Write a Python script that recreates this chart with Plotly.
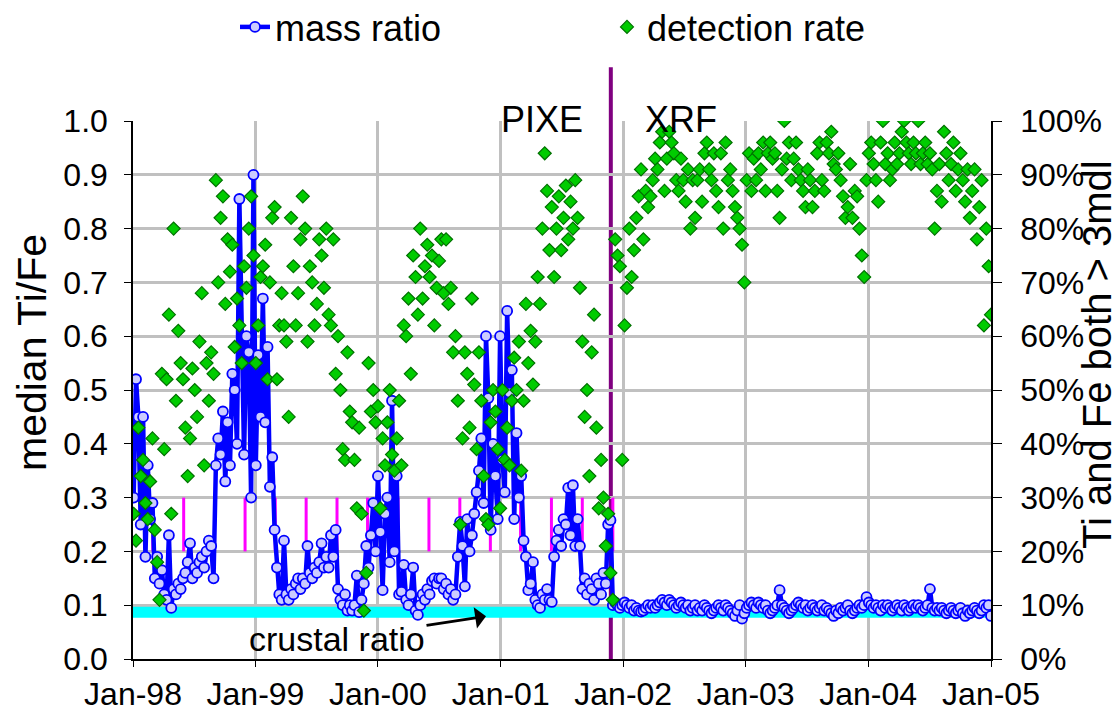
import pandas as pd
import plotly.graph_objects as go

# ---------------- data ----------------
sample_start = "1998-01-03"          # weekly samples
n_samples = 366

mass_1998 = [0.30, 0.52, 0.45, 0.25, 0.45, 0.19, 0.36, 0.26, 0.29, 0.15,
             0.19, 0.14, 0.165, 0.12, 0.11, 0.23, 0.095, 0.13, 0.12, 0.14,
             0.13, 0.15, 0.16, 0.18, 0.215, 0.15, 0.17, 0.16, 0.18, 0.19,
             0.17, 0.20, 0.22, 0.21, 0.15, 0.36, 0.41, 0.38, 0.46, 0.33,
             0.44, 0.36, 0.53, 0.50, 0.40, 0.855, 0.55, 0.38, 0.60, 0.57,
             0.30, 0.90]
mass_1999 = [0.36, 0.565, 0.45, 0.67, 0.44, 0.58, 0.32, 0.375, 0.24, 0.17,
             0.12, 0.11, 0.22, 0.12, 0.11, 0.13, 0.12, 0.14, 0.15, 0.13,
             0.15, 0.14, 0.21, 0.16, 0.15, 0.17, 0.16, 0.18, 0.215, 0.17,
             0.19, 0.17, 0.23, 0.19, 0.24, 0.13, 0.11, 0.10, 0.12, 0.09,
             0.10, 0.09, 0.10, 0.155, 0.087, 0.11, 0.14, 0.21, 0.17, 0.23,
             0.29, 0.20]
mass_2000 = [0.34, 0.236, 0.128, 0.27, 0.30, 0.18, 0.48, 0.20, 0.34, 0.12,
             0.125, 0.175, 0.11, 0.10, 0.12, 0.17, 0.09, 0.082, 0.10, 0.12,
             0.11, 0.13, 0.12, 0.145, 0.15, 0.14, 0.15, 0.15, 0.13, 0.14,
             0.12, 0.13, 0.11, 0.12, 0.19, 0.255, 0.21, 0.135, 0.26, 0.20,
             0.23, 0.27, 0.31, 0.35, 0.41, 0.29, 0.60, 0.485, 0.24, 0.40,
             0.34, 0.26]
mass_2001_pixe = [0.60, 0.37, 0.31, 0.647, 0.495, 0.537, 0.26, 0.42, 0.30, 0.34,
                  0.22, 0.19, 0.128, 0.14, 0.18, 0.11, 0.10, 0.095, 0.12, 0.11,
                  0.13, 0.11, 0.106, 0.19, 0.22, 0.24, 0.21, 0.26, 0.25, 0.318,
                  0.23, 0.323, 0.21, 0.26, 0.21, 0.13, 0.15, 0.12, 0.14, 0.13,
                  0.11, 0.15, 0.14, 0.12, 0.16, 0.14, 0.25, 0.258]
mass_xrf = [0.10, 0.105, 0.10, 0.095, 0.10, 0.105, 0.10, 0.095, 0.10, 0.09,
            0.095, 0.09, 0.088, 0.09, 0.095, 0.10, 0.095, 0.10, 0.095, 0.10,
            0.105, 0.11, 0.105, 0.10, 0.11, 0.105, 0.10, 0.095, 0.10, 0.105,
            0.10, 0.095, 0.10, 0.09, 0.095, 0.10, 0.09, 0.095, 0.09, 0.10,
            0.095, 0.09, 0.085, 0.09, 0.095, 0.10, 0.095, 0.09, 0.10, 0.095,
            0.09, 0.085, 0.08, 0.09, 0.10, 0.075, 0.085, 0.095, 0.10, 0.105,
            0.10, 0.095, 0.105, 0.10, 0.095, 0.10, 0.09, 0.085, 0.09, 0.095,
            0.10, 0.128, 0.10, 0.095, 0.09, 0.085, 0.09, 0.095, 0.10, 0.105,
            0.10, 0.095, 0.10, 0.09, 0.095, 0.10, 0.095, 0.09, 0.095, 0.10,
            0.09, 0.095, 0.09, 0.085, 0.08, 0.09, 0.085, 0.095, 0.09, 0.095,
            0.10, 0.09, 0.085, 0.09, 0.095, 0.10, 0.095, 0.10, 0.115, 0.105,
            0.10, 0.095, 0.10, 0.095, 0.09, 0.10, 0.095, 0.10, 0.095, 0.09,
            0.095, 0.10, 0.095, 0.09, 0.10, 0.095, 0.09, 0.095, 0.10, 0.095,
            0.10, 0.095, 0.09, 0.095, 0.10, 0.13, 0.095, 0.09, 0.095, 0.09,
            0.095, 0.09, 0.085, 0.09, 0.095, 0.09, 0.085, 0.09, 0.095, 0.085,
            0.08, 0.09, 0.085, 0.09, 0.095, 0.09, 0.085, 0.09, 0.10, 0.095,
            0.10, 0.08]

det_1998 = [27, 22, 43, 34, 37, 29, 26, 33, 41, 24,
            18, 11, 53, 39, 52, 64, 27, 80, 48, 61,
            55, 52, 43, 34, 41, 54, 50, 45, 59, 68,
            36, 55, 48, 57, 53, 89, 70, 82, 86, 66,
            78, 72, 77, 58, 67, 62, 55, 73, 69, 80,
            86, 75]
det_1999 = [55, 62, 71, 73, 77, 52, 70, 82, 84, 52,
            62, 68, 62, 59, 45, 82, 73, 62, 68, 78,
            86, 80, 59, 73, 70, 62, 66, 78, 75, 69,
            80, 64, 62, 78, 53, 60, 50, 39, 37, 57,
            46, 44, 37, 28, 43, 27, 9, 16, 55, 46,
            50, 44]
det_2000 = [47, 28, 41, 36, 44, 50, 38, 35, 41, 48,
            36, 62, 60, 67, 53, 75, 71, 64, 80, 67,
            73, 77, 71, 75, 62, 69, 74, 78, 68, 78,
            66, 69, 57, 60, 48, 25, 41, 57, 53, 43,
            67, 51, 39, 57, 48, 34, 26, 25, 44, 50,
            46, 39]
det_2001_pixe = [28, 50, 37, 43, 36, 48, 56, 50, 59, 35,
                 48, 66, 55, 61, 51, 59, 71, 66, 80, 94,
                 87, 76, 84, 71, 80, 86, 76, 82, 88, 78,
                 85, 80, 89, 82, 69, 59, 45, 50, 34, 57,
                 64, 43, 28, 37, 30, 21, 27, 16]
det_xrf = [11, 78, 75, 73, 37, 62, 69, 80, 71, 76,
           82, 86, 91, 78, 87, 84, 86, 89, 93, 91,
           96, 98, 87, 93, 98, 96, 94, 89, 87, 93,
           89, 85, 91, 80, 89, 82, 89, 91, 85, 94,
           96, 91, 89, 94, 87, 84, 94, 80, 96, 89,
           91, 87, 84, 82, 80, 77, 70, 89, 94, 87,
           93, 89, 94, 91, 96, 87, 94, 96, 93, 94,
           87, 82, 91, 100, 93, 96, 89, 93, 96, 91,
           89, 87, 84, 91, 89, 84, 87, 94, 96, 89,
           87, 96, 94, 98, 92, 91, 94, 89, 86, 82,
           84, 92, 82, 87, 86, 80, 75, 71, 89, 94,
           96, 92, 89, 85, 96, 100, 92, 94, 89, 91,
           96, 92, 94, 98, 100, 96, 94, 92, 96, 94,
           100, 92, 94, 96, 92, 94, 91, 80, 87, 92,
           85, 98, 94, 89, 92, 96, 87, 91, 94, 89,
           85, 91, 82, 87, 91, 78, 84, 89, 62, 80,
           73, 64]

crustal_ratio = 0.087
crustal_span = ["1998-01-01", "2005-01-01"]
season_dates = ["1998-03-01", "1998-06-01", "1998-09-01", "1998-12-01",
                "1999-03-01", "1999-06-01", "1999-09-01", "1999-12-01",
                "2000-03-01", "2000-06-01", "2000-09-01", "2000-12-01",
                "2001-03-01", "2001-06-01", "2001-09-01", "2001-12-01"]
season_low, season_high = 0.2, 0.3
method_change_date = "2001-11-25"

x_tick_dates = ["1998-01-01", "1999-01-01", "2000-01-01", "2001-01-01",
                "2002-01-01", "2003-01-01", "2004-01-01", "2005-01-01"]
x_tick_labels = ["Jan-98", "Jan-99", "Jan-00", "Jan-01",
                 "Jan-02", "Jan-03", "Jan-04", "Jan-05"]

# ---------------- build ----------------
dates = pd.date_range(sample_start, periods=n_samples, freq="7D")
mass = mass_1998 + mass_1999 + mass_2000 + mass_2001_pixe + mass_xrf
det = det_1998 + det_1999 + det_2000 + det_2001_pixe + det_xrf

FONT = "Liberation Sans, Arial, sans-serif"
GRID = "#c0c0c0"

fig = go.Figure()

fig.add_trace(go.Scatter(
    x=crustal_span, y=[crustal_ratio, crustal_ratio], mode="lines",
    line=dict(color="#00ffff", width=11), showlegend=False, hoverinfo="skip"))

sx, sy = [], []
for d in season_dates:
    sx += [d, d, None]
    sy += [season_low, season_high, None]
fig.add_trace(go.Scatter(
    x=sx, y=sy, mode="lines", line=dict(color="#ff00ff", width=3),
    showlegend=False, hoverinfo="skip"))

fig.add_trace(go.Scatter(
    x=dates, y=mass, mode="lines+markers", name="mass ratio",
    line=dict(color="#0000ff", width=4.5),
    marker=dict(symbol="circle", size=10, color="#ccccff",
                line=dict(color="#0000ff", width=1.8))))

fig.add_trace(go.Scatter(
    x=dates, y=det, mode="markers", name="detection rate", yaxis="y2",
    marker=dict(symbol="diamond", size=10, color="#00cc00",
                line=dict(color="#007000", width=1.2))))

fig.add_shape(type="line", xref="x", yref="paper",
              x0=method_change_date, x1=method_change_date, y0=0, y1=1.1,
              line=dict(color="#800080", width=4), layer="between")

W, H = 1118, 721
L, R, T, B = 133, 127, 121, 62
pw, ph = W - L - R, H - T - B


def px(xp):
    return (xp - L) / pw


def py(yp):
    return (H - B - yp) / ph


fig.update_layout(
    width=W, height=H,
    margin=dict(l=L, r=R, t=T, b=B, pad=0, autoexpand=False),
    paper_bgcolor="white", plot_bgcolor="white",
    font=dict(family=FONT, color="black", size=32),
    showlegend=True,
    legend=dict(orientation="h", x=px(235), y=py(27), xanchor="left",
                yanchor="middle", font=dict(size=36), entrywidth=327,
                entrywidthmode="pixels", bgcolor="rgba(0,0,0,0)",
                itemsizing="trace", traceorder="normal"),
    xaxis=dict(type="date", range=["1998-01-01", "2005-01-01"],
               tickvals=x_tick_dates, ticktext=x_tick_labels,
               showgrid=True, gridcolor=GRID, gridwidth=3,
               showline=True, linecolor="black", linewidth=1.5,
               ticks="outside", ticklen=6, tickcolor="black",
               tickfont=dict(size=32), zeroline=False, automargin=False),
    yaxis=dict(range=[0, 1], dtick=0.1, tickformat=".1f",
               showgrid=True, gridcolor=GRID, gridwidth=3,
               showline=True, linecolor="black", linewidth=1.5,
               ticks="outside", ticklen=7, tickcolor="black",
               ticklabelstandoff=10, tickfont=dict(size=32), zeroline=False,
               automargin=False),
    yaxis2=dict(range=[0, 100], dtick=10, ticksuffix="%", overlaying="y",
                side="right", showgrid=False, showline=True,
                linecolor="black", linewidth=1.5, ticks="outside",
                ticklen=9, tickcolor="black", ticklabelstandoff=12,
                tickfont=dict(size=32), zeroline=False, automargin=False),
)

fig.add_annotation(text="median Ti/Fe", xref="paper", yref="paper",
                   x=px(32), y=py(353), textangle=-90, showarrow=False,
                   font=dict(size=41), xanchor="center", yanchor="middle")
fig.add_annotation(text="Ti and Fe both > 3mdl", xref="paper", yref="paper",
                   x=px(1097), y=py(355), textangle=-90, showarrow=False,
                   font=dict(size=40), xanchor="center", yanchor="middle")
fig.add_annotation(text="PIXE", xref="paper", yref="paper",
                   x=px(542), y=py(97), showarrow=False, font=dict(size=36))
fig.add_annotation(text="XRF", xref="paper", yref="paper",
                   x=px(681), y=py(97), showarrow=False, font=dict(size=36))
fig.add_annotation(text="crustal ratio", xref="paper", yref="paper",
                   x=px(488), y=py(616), ax=337 - 488, ay=639 - 616,
                   axref="pixel", ayref="pixel",
                   showarrow=True, arrowhead=1, arrowsize=1.2, arrowwidth=3,
                   arrowcolor="black", font=dict(size=34), standoff=2)

fig.write_html("out.html",
               config={"displayModeBar": False},
               post_script="document.body.style.margin='0';"
                           "document.body.style.padding='0';"
                           "document.body.style.overflow='hidden';")
